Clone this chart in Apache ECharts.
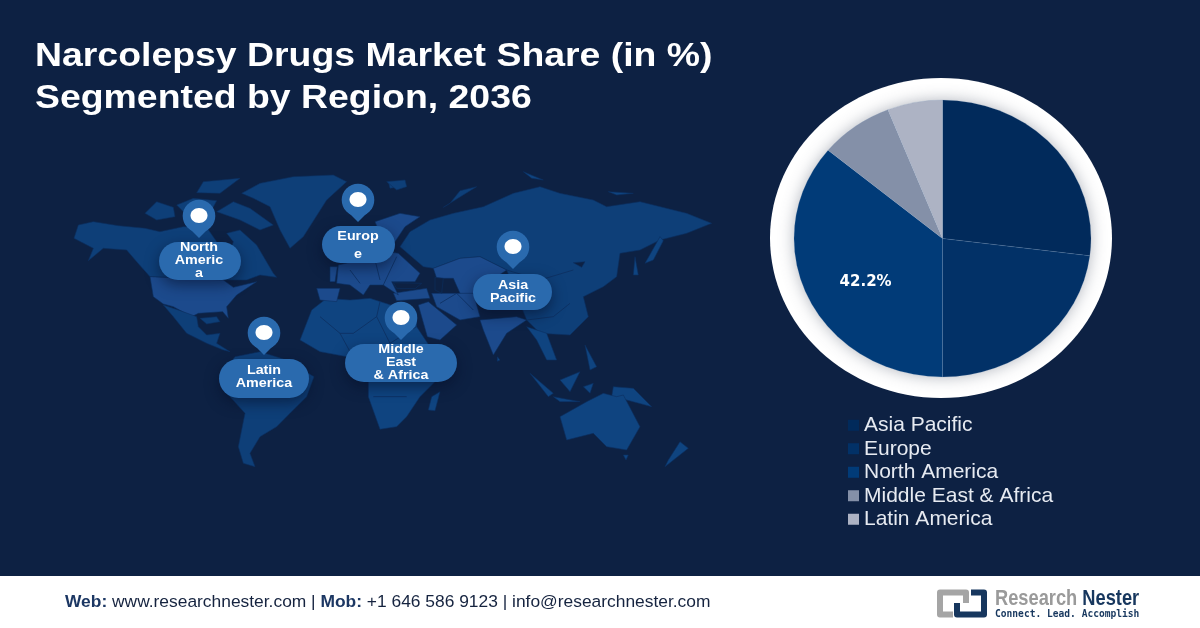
<!DOCTYPE html>
<html>
<head>
<meta charset="utf-8">
<title>Narcolepsy Drugs Market Share</title>
<style>
  html, body { margin: 0; padding: 0; background: #0d2143; }
  #main { width: 1200px; height: 628px; }
</style>
<script src="https://cdn.jsdelivr.net/npm/echarts@6/dist/echarts.min.js"></script>
</head>
<body>
<div id="main"></div>
<script>
var regions = ['Asia Pacific', 'Europe', 'North America', 'Middle East & Africa', 'Latin America'];
var shares = [27, 23, 36, 8, 6];
var sliceLabels = ['', '', '42.2%', '', ''];
var sliceColors = ['#012a5b', '#023167', '#013b78', '#8490a8', '#adb3c4'];

var titleLines = ['Narcolepsy Drugs Market Share (in %)', 'Segmented by Region, 2036'];

var pinTexts = [
  ['North', 'Americ', 'a'],
  ['Europ', 'e'],
  ['Asia', 'Pacific'],
  ['Middle', 'East', '& Africa'],
  ['Latin', 'America']
];

var font = '"Liberation Sans", Arial, sans-serif';
var bgColor = '#0d2143';
var landDark = '#0e3f78';
var landMid = '#0f4480';
var landLight = '#1c4a8c';
var pinBlue = '#2a6aae';

// world map silhouette, traced by hand. first two numbers are the crop origin, rest is 3x crop coords
var westLand = [
  [landDark, 42,205, 55,165, 100,155, 175,167, 255,175, 300,185, 370,170, 440,172, 470,215, 470,250, 505,262, 520,215, 500,190, 540,180, 590,225, 640,310, 650,322, 600,315, 560,330, 490,330, 270,320, 230,275, 200,240, 130,235, 85,272, 100,235],
  [landDark, 255,130, 290,95, 340,112, 345,140, 290,150],
  [landDark, 350,105, 400,85, 470,92, 450,130, 380,135],
  [landDark, 430,35, 540,25, 480,70, 410,68],
  [landDark, 470,125, 520,95, 570,115, 640,165, 600,180, 540,150],
  [landDark, 545,70, 600,40, 700,20, 820,15, 860,35, 800,90, 730,200, 690,235, 660,180, 630,110, 580,85],
  [landLight, 270,320, 490,330, 520,352, 590,335, 530,375, 500,410, 505,445, 488,425, 415,430, 395,440, 340,410, 310,402, 280,380],
  [landDark, 310,405, 355,420, 410,440, 415,470, 440,495, 480,490, 470,520, 510,545, 490,540, 440,520, 380,490, 340,440],
  [landDark, 525,560, 600,545, 680,570, 762,620, 740,680, 690,730, 650,770, 600,800, 570,850, 585,890, 550,880, 535,830, 555,730, 510,680, 480,620],
  [landDark, 420,445, 470,440, 480,455, 440,462],
  [landDark, 985,35, 1015,35, 1018,50, 990,55]
];
var eastLand = [
  [landMid, -85,420, -40,385, 30,390, 90,385, 230,430, 230,470, 290,560, 340,545, 300,620, 240,680, 200,740, 170,770, 120,778, 85,680, 85,570, 20,560, -60,545, -120,510],
  [landMid, 265,720, 275,680, 300,665, 285,722],
  [landLight, 235,405, 265,395, 350,465, 300,510, 262,500],
  [landDark, 180,230, 210,185, 270,150, 340,130, 430,110, 520,70, 600,50, 660,70, 760,90, 800,110, 900,95, 1040,130, 1115,160, 1040,190, 960,210, 900,240, 840,250, 830,320, 790,350, 730,380, 745,440, 690,495, 600,490, 560,450, 500,300, 420,260, 360,265, 280,295, 250,290],
  [landLight, 280,295, 360,265, 420,260, 500,300, 440,340, 400,400, 360,370, 340,325, 290,325],
  [landLight, 275,370, 400,370, 420,440, 360,450, 290,410],
  [landLight, 420,450, 530,440, 560,450, 500,490, 460,555, 430,480],
  [landLight, 160,370, 260,355, 270,385, 170,392],
  [landLight, -5,285, 60,270, 110,240, 175,250, 240,310, 225,335, 155,335, 175,375, 130,345, 90,345, 70,375, 30,345, -10,340],
  [landLight, 105,155, 180,130, 240,140, 195,170, 165,215, 130,215],
  [landLight, -30,290, -8,290, -15,335, -30,335],
  [landLight, -70,355, 0,355, -10,395, -60,390],
  [landDark, 140,35, 195,30, 200,50, 170,60],
  [landDark, 310,112, 410,50, 360,62, 330,100],
  [landMid, 560,470, 620,490, 650,570, 620,570, 590,510],
  [landMid, 915,280, 960,200, 970,212, 940,270],
  [landMid, 885,260, 895,315, 880,315],
  [landMid, 570,610, 640,670, 625,680],
  [landMid, 660,630, 720,605, 690,665],
  [landMid, 640,680, 720,695, 660,695],
  [landMid, 730,650, 760,640, 750,670],
  [landMid, 735,525, 770,590, 750,600],
  [landMid, 820,650, 880,655, 935,710, 860,690, 815,680],
  [landMid, 660,740, 740,695, 790,670, 830,680, 850,675, 900,770, 860,840, 800,830, 760,790, 680,810],
  [landMid, 1020,815, 1045,835, 975,890, 985,870],
  [landMid, 850,855, 865,855, 858,870],
  [landMid, 472,560, 480,570, 472,574],
  [landMid, 805,65, 880,70, 830,75],
  [landMid, 550,5, 610,30, 575,25],
  // inland water
  [bgColor, 285,322, 310,325, 305,370, 285,360],
  [bgColor, 160,338, 245,340, 225,356, 170,355],
  [bgColor, 700,278, 735,275, 725,292]
];
// a few country borders, same coords as eastLand
var borderLines = [
  [-60,440, 0,490, 40,490, 110,440, 120,395],
  [0,490, 30,545],
  [110,440, 150,520, 230,470],
  [85,600, 150,600, 240,600],
  [100,680, 200,680],
  [30,300, 60,340],
  [100,250, 120,330],
  [170,260, 130,345],
  [300,400, 350,370, 400,420],
  [560,450, 640,440, 690,400],
  [500,300, 600,330, 700,300]
];

function polygonFrom(raw, ox, oy) {
  var pts = [];
  for (var i = 1; i < raw.length; i += 2) {
    pts.push([ox + raw[i] / 3, oy + raw[i + 1] / 3]);
  }
  return {
    type: 'polygon',
    shape: { points: pts },
    style: { fill: raw[0], stroke: '#0c2f60', lineWidth: 0.6 },
    silent: true
  };
}

function borderFrom(raw, ox, oy) {
  var pts = [];
  for (var i = 0; i < raw.length; i += 2) {
    pts.push([ox + raw[i] / 3, oy + raw[i + 1] / 3]);
  }
  return {
    type: 'polyline',
    shape: { points: pts },
    style: { fill: null, stroke: '#0c2f60', lineWidth: 0.8 },
    silent: true
  };
}

function pinElements(lines, cx, pinY, box, lineY) {
  var els = [];
  els.push({
    type: 'rect',
    shape: { x: box[0], y: box[1], width: box[2] - box[0], height: box[3] - box[1], r: (box[3] - box[1]) / 2 },
    style: { fill: pinBlue, shadowBlur: 14, shadowColor: 'rgba(5,15,40,0.55)', shadowOffsetY: 5 },
    silent: true
  });
  els.push({
    type: 'circle',
    shape: { cx: cx, cy: pinY, r: 16.3 },
    style: { fill: pinBlue },
    silent: true
  });
  els.push({
    type: 'polygon',
    shape: { points: [[cx - 14.5, pinY + 7.5], [cx + 14.5, pinY + 7.5], [cx, pinY + 22]] },
    style: { fill: pinBlue },
    silent: true
  });
  els.push({
    type: 'ellipse',
    shape: { cx: cx, cy: pinY - 0.5, rx: 8.5, ry: 7.5 },
    style: { fill: '#ffffff' },
    silent: true
  });
  lines.forEach(function (t, i) {
    els.push({
      type: 'text',
      x: cx,
      y: lineY[i],
      scaleX: 1.06,
      style: { text: t, fill: '#ffffff', font: 'bold 13.5px ' + font, align: 'center', verticalAlign: 'middle' },
      silent: true
    });
  });
  return els;
}

var graphicEls = [];

// white ring behind the pie, the second ellipse only carries the soft shadow
graphicEls.push({
  type: 'ellipse',
  shape: { cx: 941, cy: 238, rx: 171, ry: 160 },
  style: { fill: '#ffffff' },
  silent: true
});
graphicEls.push({
  type: 'ellipse',
  shape: { cx: 942.5, cy: 238.5, rx: 148, ry: 138 },
  style: { fill: '#ffffff', shadowBlur: 16, shadowColor: 'rgba(70,80,100,0.45)' },
  silent: true
});

westLand.forEach(function (raw) { graphicEls.push(polygonFrom(raw, 60, 170)); });
eastLand.forEach(function (raw) { graphicEls.push(polygonFrom(raw, 340, 170)); });
borderLines.forEach(function (raw) { graphicEls.push(borderFrom(raw, 340, 170)); });

graphicEls = graphicEls
  .concat(pinElements(pinTexts[0], 199, 216, [159, 242, 241, 280], [247, 260, 273]))
  .concat(pinElements(pinTexts[1], 358, 200, [322, 226, 395, 263], [236, 254]))
  .concat(pinElements(pinTexts[2], 513, 247, [473, 274, 552, 310], [285, 298]))
  .concat(pinElements(pinTexts[3], 401, 318, [345, 344, 457, 382], [349, 362, 375]))
  .concat(pinElements(pinTexts[4], 264, 333, [219, 359, 309, 398], [370, 383]));

// title, stretched a bit because the original is letter spaced
titleLines.forEach(function (line, i) {
  graphicEls.push({
    type: 'text',
    x: 35,
    y: 56.5 + i * 42,
    scaleX: 1.1,
    style: { text: line, fill: '#ffffff', font: 'bold 34px ' + font, verticalAlign: 'middle' },
    silent: true
  });
});

// footer band
graphicEls.push({
  type: 'rect',
  shape: { x: 0, y: 576, width: 1200, height: 52 },
  style: { fill: '#ffffff' },
  silent: true
});
graphicEls.push({
  type: 'text',
  x: 65,
  y: 602,
  style: {
    text: '{b|Web:} www.researchnester.com | {b|Mob:} +1 646 586 9123 | info@researchnester.com',
    font: '17.4px ' + font,
    fill: '#15233f',
    verticalAlign: 'middle',
    rich: {
      b: { font: 'bold 17.4px ' + font, fill: '#1c3763' }
    }
  },
  silent: true
});

// logo
graphicEls.push({
  type: 'polyline',
  shape: { points: [[966, 603], [966, 592.5], [940, 592.5], [940, 614.5], [953, 614.5]] },
  style: { fill: null, stroke: '#a5a5a5', lineWidth: 6, lineJoin: 'round' },
  silent: true
});
graphicEls.push({
  type: 'polyline',
  shape: { points: [[971, 592.5], [984, 592.5], [984, 614.5], [957, 614.5], [957, 603]] },
  style: { fill: null, stroke: '#17375e', lineWidth: 6, lineJoin: 'round' },
  silent: true
});
graphicEls.push({
  type: 'text',
  x: 995,
  y: 599,
  scaleX: 0.83,
  style: {
    text: '{g|Research} {n|Nester}',
    verticalAlign: 'middle',
    font: 'bold 22px ' + font,
    rich: {
      g: { font: 'bold 22px ' + font, fill: '#9a9a9a' },
      n: { font: 'bold 22px ' + font, fill: '#17375e' }
    }
  },
  silent: true
});
graphicEls.push({
  type: 'text',
  x: 995,
  y: 614,
  style: {
    text: 'Connect. Lead. Accomplish',
    verticalAlign: 'middle',
    font: 'bold 9.6px "DejaVu Sans Mono", monospace',
    fill: '#17375e'
  },
  silent: true
});

var chart = echarts.init(document.getElementById('main'));

var option = {
  backgroundColor: bgColor,
  animation: false,
  legend: {
    orient: 'vertical',
    left: 848,
    top: 414,
    padding: 0,
    itemWidth: 11,
    itemHeight: 11,
    itemGap: 1,
    icon: 'rect',
    data: regions,
    selectedMode: false,
    itemStyle: { borderWidth: 0 },
    textStyle: { color: '#e6eaf1', fontFamily: font, fontSize: 21, lineHeight: 22.5 }
  },
  series: [{
    name: 'Market share',
    type: 'pie',
    center: [942.5, 238.5],
    radius: [0, 148.5],
    startAngle: 90,
    clockwise: true,
    silent: true,
    labelLine: { show: false },
    labelLayout: { dx: -7, dy: 11 },
    itemStyle: { borderColor: 'rgba(120,150,190,0.35)', borderWidth: 0.5 },
    data: regions.map(function (name, i) {
      return {
        name: name,
        value: shares[i],
        itemStyle: { color: sliceColors[i] },
        label: {
          show: sliceLabels[i] !== '',
          position: 'inside',
          formatter: sliceLabels[i],
          color: '#ffffff',
          fontFamily: '"DejaVu Sans", sans-serif',
          fontWeight: 'bold',
          fontSize: 15
        }
      };
    })
  }],
  graphic: { elements: graphicEls }
};

chart.setOption(option);

// reference pie is slightly squashed, echarts only does round ones
var pieView = chart._chartsViews[0];
if (pieView) {
  pieView.group.originX = 942.5;
  pieView.group.originY = 238.5;
  pieView.group.scaleY = 277 / 297;
  pieView.group.markRedraw();
}
</script>
</body>
</html>
